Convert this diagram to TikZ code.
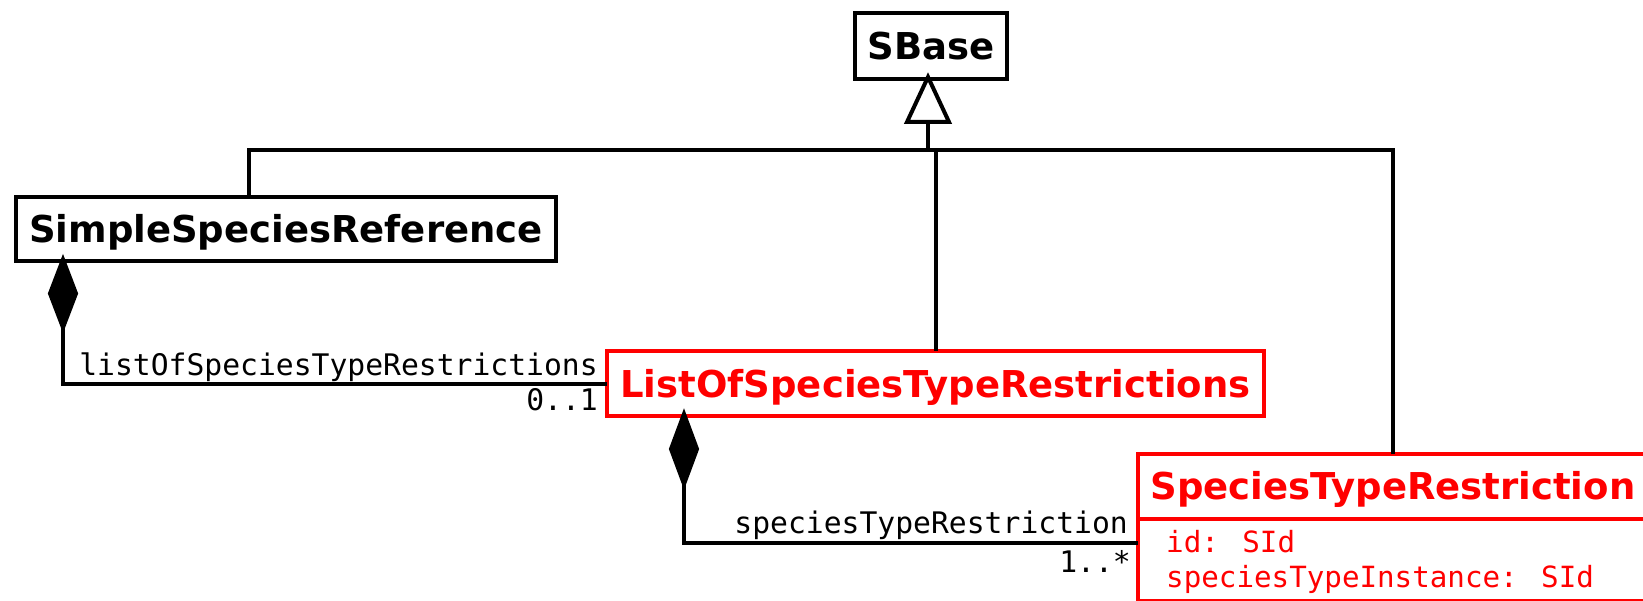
\documentclass[tikz,border=0pt]{standalone}
\usepackage{fontspec}
\newfontfamily\clsfont{DejaVu Sans}
\newfontfamily\rolefont{DejaVu Sans Mono}
\usetikzlibrary{calc}

\tikzset{
  cls/.style={draw=black, line width=4pt, rectangle, inner sep=0pt, outer sep=0pt,
    font={\clsfont\bfseries\fontsize{37pt}{44pt}\selectfont},
    text height=27pt, text depth=0pt},
  redcls/.style={cls, draw=red, text=red},
  attrbox/.style={draw=red, line width=4pt, rectangle, inner sep=0pt, outer sep=0pt},
  conn/.style={draw=black, line width=4pt, line join=miter},
  comp/.style={conn, fill=black},
  role/.style={font={\rolefont\fontsize{29.7pt}{34pt}\selectfont}, inner sep=0pt, anchor=base east},
  attr/.style={font={\rolefont\fontsize{29.2pt}{34pt}\selectfont}, text=red, inner sep=0pt, anchor=base west},
}

\begin{document}
\begin{tikzpicture}[x=1pt, y=-1pt]
  \useasboundingbox (0,0) rectangle (1643,601);

  % classes
  \node[cls, minimum width=152pt, minimum height=66pt] (sbase) at (931,46) {SBase};
  \node[cls, minimum width=540pt, minimum height=64pt] (ssr) at (286,229.5) {SimpleSpeciesReference};
  \node[redcls, minimum width=657pt, minimum height=65pt] (lst) at (935.5,383.5) {ListOfSpeciesTypeRestrictions};
  \node[redcls, minimum width=510pt, minimum height=65pt] (strh) at (1393,486) {SpeciesTypeRestriction};
  \node[attrbox, minimum width=510pt, minimum height=82pt, anchor=north] (stra) at (strh.south) {};
  \node[attr] (a1) at (1166,552) {id: SId};
  \node[attr] (a2) at (1166,587) {speciesTypeInstance: SId};

  % inheritance tree
  \coordinate (gen) at (928,122);
  \coordinate (busL) at (249,150);
  \coordinate (busM) at (936,150);
  \coordinate (busR) at (1393,150);
  \draw[conn] (ssr.north -| busL) -- (busL) -- (busR) -- (strh.north -| busR);
  \draw[conn] (busM) -- (lst.north -| busM);
  \draw[conn] (gen) -- (gen |- busL);
  \draw[conn, fill=white] ([yshift=2pt]sbase.south -| gen) -- ([xshift=-21pt]gen) -- ([xshift=21pt]gen) -- cycle;

  % composition: SimpleSpeciesReference -> ListOfSpeciesTypeRestrictions
  \path ([yshift=2pt]ssr.south -| 63,0) coordinate (c1top) ++(0,68) coordinate (c1bot);
  \draw[comp] (c1top) -- ++(-13,34) -- ++(13,34) -- ++(13,-34) -- cycle;
  \draw[conn] (c1bot) |- (lst.west);
  \node[role] (r1) at (598,375) {listOfSpeciesTypeRestrictions};
  \node[role] (m1) at (598,410) {0..1};

  % composition: ListOfSpeciesTypeRestrictions -> SpeciesTypeRestriction
  \path ([yshift=2pt]lst.south -| 684,0) coordinate (c2top) ++(0,70) coordinate (c2bot);
  \draw[comp] (c2top) -- ++(-13,35) -- ++(13,35) -- ++(13,-35) -- cycle;
  \draw[conn] (c2bot) |- (stra.west |- 0,542.5);
  \node[role] (r2) at (1128,533) {speciesTypeRestriction};
  \node[role] (m2) at (1131,572) {1..*};
\end{tikzpicture}
\end{document}
